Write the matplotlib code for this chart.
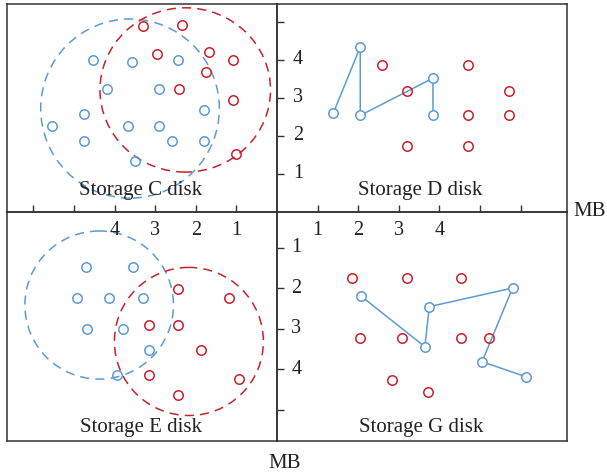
import matplotlib
matplotlib.use("Agg")
import matplotlib.pyplot as plt
from matplotlib.patches import Ellipse

plt.rcParams['font.family'] = ['Liberation Serif', 'DejaVu Serif']

BLUE = '#5b9bd5'
RED = '#c8202c'
FRAME = '#333333'

# ---------------- data ----------------
# Storage C disk (upper-left; x grows leftwards, y grows upwards)
c_blue_x = [4.53, 3.57, 2.43, 4.19, 2.91, 4.75, 1.80, 5.55, 3.67, 2.91, 4.75, 2.59, 1.80, 3.49]
c_blue_y = [3.99, 3.94, 3.99, 3.24, 3.23, 2.59, 2.68, 2.26, 2.26, 2.26, 1.86, 1.86, 1.86, 1.34]
c_red_x = [3.29, 2.33, 2.96, 1.67, 1.08, 1.75, 2.42, 1.08, 1.01]
c_red_y = [4.88, 4.93, 4.16, 4.20, 3.99, 3.67, 3.23, 2.95, 1.52]
c_blue_ring = (3.62, 2.72, 4.40, 4.71)   # centre x, centre y, width, height
c_red_ring = (2.26, 3.21, 4.20, 4.32)

# Storage D disk (upper-right)
d_line_x = [1.39, 2.05, 2.05, 3.84, 3.84]
d_line_y = [2.61, 4.34, 2.54, 3.52, 2.54]
d_red_x = [2.59, 3.21, 3.21, 4.70, 4.70, 4.70, 5.72, 5.72]
d_red_y = [3.87, 3.19, 1.74, 3.87, 2.54, 1.74, 3.19, 2.54]

# Storage E disk (lower-left; x grows leftwards, y grows downwards)
e_blue_x = [4.70, 3.55, 4.92, 4.13, 3.31, 4.69, 3.79, 3.15, 3.95]
e_blue_y = [1.48, 1.48, 2.24, 2.24, 2.24, 3.00, 3.00, 3.52, 4.13]
e_red_x = [2.43, 1.17, 3.15, 2.43, 1.88, 3.15, 0.94, 2.43]
e_red_y = [2.02, 2.24, 2.90, 2.90, 3.52, 4.13, 4.23, 4.64]
e_blue_ring = (4.38, 2.41, 3.66, 3.66)
e_red_ring = (2.17, 3.31, 3.67, 3.66)

# Storage G disk (lower-right; y grows downwards)
g_line_x = [2.07, 3.64, 3.75, 5.80, 5.05, 6.12]
g_line_y = [2.19, 3.44, 2.45, 1.99, 3.81, 4.18]
g_red_x = [1.85, 3.20, 4.52, 2.05, 3.08, 4.52, 5.23, 2.82, 3.72]
g_red_y = [1.73, 1.73, 1.73, 3.23, 3.23, 3.23, 3.23, 4.27, 4.57]

x_ticks = [1, 2, 3, 4, 5, 6]
y_ticks = [1, 2, 3, 4, 5]
x_labels = ['1', '2', '3', '4']
y_labels = ['1', '2', '3', '4']
titles = ['Storage C disk', 'Storage D disk', 'Storage E disk', 'Storage G disk']
axis_unit = 'MB'

# ---------------- layout ----------------
W, H = 607, 475
fig = plt.figure(figsize=(W / 100, H / 100), dpi=100)

xl, xc, xr = 7, 277, 567
yt, yc, yb = 4, 212, 441

def ax_at(x0, x1, y0, y1):
    return fig.add_axes([x0 / W, 1 - y1 / H, (x1 - x0) / W, (y1 - y0) / H])

axC = ax_at(xl, xc, yt, yc)
axD = ax_at(xc, xr, yt, yc)
axE = ax_at(xl, xc, yc, yb)
axG = ax_at(xc, xr, yc, yb)

left_lim = (6.65, 0)
right_lim = (0, 7.14)
top_lim = (0, 5.47)
bot_lim = (5.77, 0.111)

axC.set_xlim(*left_lim); axC.set_ylim(*top_lim)
axD.set_xlim(*right_lim); axD.set_ylim(*top_lim)
axE.set_xlim(*left_lim); axE.set_ylim(*bot_lim)
axG.set_xlim(*right_lim); axG.set_ylim(*bot_lim)

for ax in (axC, axD, axE, axG):
    for s in ax.spines.values():
        s.set_color(FRAME)
        s.set_linewidth(1.1)
    ax.set_xticks([])
    ax.set_yticks([])
    ax.set_facecolor('none')

# ticks on the central axes (pointing into the upper / right quadrants)
for ax in (axC, axD):
    ax.set_xticks(x_ticks)
    ax.tick_params(axis='x', direction='in', length=5, width=1.0,
                   color=FRAME, labelbottom=False, bottom=True)
for ax in (axD, axG):
    ax.set_yticks(y_ticks)
    ax.tick_params(axis='y', direction='in', length=5, width=1.0,
                   color=FRAME, labelleft=False, left=True)

FS = 14.5
TFS = 15

# tick labels placed inside quadrants
for i, lab in enumerate(y_labels):
    axD.text(0.52, i + 1, lab, ha='center', va='center', fontsize=FS, color='#222222')
    axG.text(0.48, i + 1, lab, ha='center', va='center', fontsize=FS, color='#222222')
for i, lab in enumerate(x_labels):
    axE.text(i + 1, 0.56, lab, ha='center', va='center', fontsize=FS, color='#222222')
    axG.text(i + 1, 0.56, lab, ha='center', va='center', fontsize=FS, color='#222222')

MS = 6.8
MEW = 1.1

def rings(ax, spec, color):
    cx, cy, w, h = spec
    ax.add_patch(Ellipse((cx, cy), w, h, fill=False, edgecolor=color,
                         linewidth=1.1, linestyle=(0, (6, 4))))

def pts(ax, xs, ys, color):
    ax.plot(xs, ys, linestyle='none', marker='o', markersize=MS,
            markerfacecolor='none', markeredgecolor=color, markeredgewidth=MEW)

def path(ax, xs, ys, color):
    ax.plot(xs, ys, color=color, linewidth=1.1, marker='o', markersize=MS,
            markerfacecolor='white', markeredgecolor=color, markeredgewidth=MEW)

# C
rings(axC, c_blue_ring, BLUE)
rings(axC, c_red_ring, RED)
pts(axC, c_blue_x, c_blue_y, BLUE)
pts(axC, c_red_x, c_red_y, RED)
# D
path(axD, d_line_x, d_line_y, BLUE)
pts(axD, d_red_x, d_red_y, RED)
# E
rings(axE, e_blue_ring, BLUE)
rings(axE, e_red_ring, RED)
pts(axE, e_blue_x, e_blue_y, BLUE)
pts(axE, e_red_x, e_red_y, RED)
# G
path(axG, g_line_x, g_line_y, BLUE)
pts(axG, g_red_x, g_red_y, RED)

# titles
axC.text(0.495, 0.082, titles[0], transform=axC.transAxes, ha='center', va='baseline',
         fontsize=TFS, color='#222222')
axD.text(0.495, 0.082, titles[1], transform=axD.transAxes, ha='center', va='baseline',
         fontsize=TFS, color='#222222')
axE.text(0.495, 0.039, titles[2], transform=axE.transAxes, ha='center', va='baseline',
         fontsize=TFS, color='#222222')
axG.text(0.497, 0.039, titles[3], transform=axG.transAxes, ha='center', va='baseline',
         fontsize=TFS, color='#222222')

# axis unit labels
fig.text(573 / W, 1 - 211 / H, axis_unit, ha='left', va='center', fontsize=TFS, color='#222222')
fig.text(285 / W, 1 - 463 / H, axis_unit, ha='center', va='center', fontsize=TFS, color='#222222')

fig.savefig('out.png', dpi=100)
